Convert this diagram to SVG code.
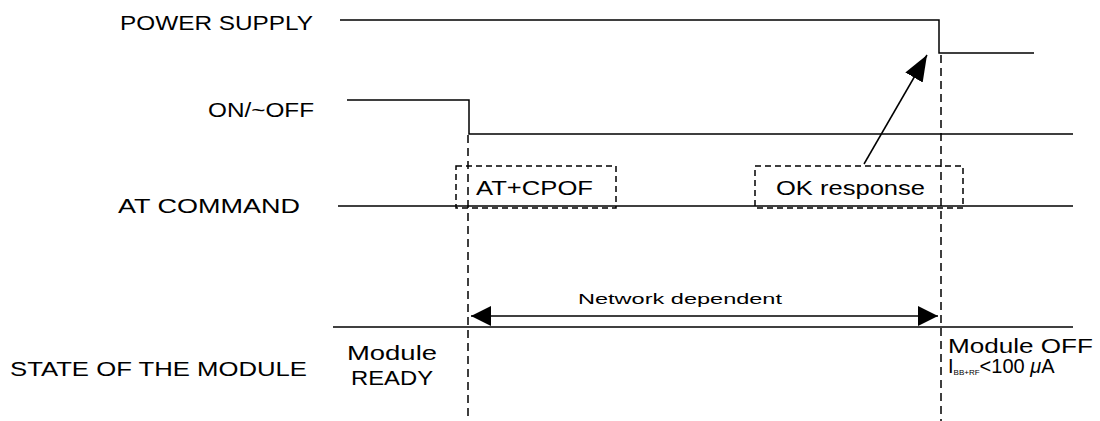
<svg xmlns="http://www.w3.org/2000/svg" width="1100" height="421" viewBox="0 0 1100 421">
<style>
.sig{fill:none;stroke:#000;stroke-width:1.5}
.dash{fill:none;stroke:#000;stroke-width:1.5;stroke-dasharray:8,5}
.box{fill:none;stroke:#000;stroke-width:1.5;stroke-dasharray:6,4}
.lbl{font-family:"Liberation Sans",Arial,sans-serif;font-size:20px;fill:#000}
.sm{font-family:"Liberation Sans",Arial,sans-serif;font-size:15px;fill:#000}
</style>
<defs>
<marker id="ah" markerUnits="userSpaceOnUse" markerWidth="20" markerHeight="20" refX="20" refY="10" orient="auto-start-reverse">
<path d="M0,0 L20,10 L0,20 Z" fill="#000"/>
</marker>
<marker id="ah2" markerUnits="userSpaceOnUse" markerWidth="26" markerHeight="20" refX="26" refY="10" orient="auto">
<path d="M0,0 L26,10 L0,20 Z" fill="#000"/>
</marker>
</defs>
<rect width="1100" height="421" fill="#fff"/>
<g id="labels">
<text class="lbl" x="120" y="30" textLength="193" lengthAdjust="spacingAndGlyphs">POWER SUPPLY</text>
<text class="lbl" x="208" y="117" textLength="106" lengthAdjust="spacingAndGlyphs">ON/~OFF</text>
<text class="lbl" x="118" y="213" textLength="182" lengthAdjust="spacingAndGlyphs">AT COMMAND</text>
<text class="lbl" x="10" y="376" textLength="297" lengthAdjust="spacingAndGlyphs">STATE OF THE MODULE</text>
</g>
<g id="signals">
<path class="sig" d="M340,20 H939 V53 H1034"/>
<path class="sig" d="M347,100 H469 V134 H1073"/>
<path class="sig" d="M338,206 H1073"/>
<path class="sig" d="M333,327 H1073"/>
</g>
<g id="connectors">
<line class="dash" x1="468" y1="135" x2="468" y2="421"/>
<line class="dash" x1="941" y1="55" x2="941" y2="421"/>
<line class="sig" x1="471" y1="316" x2="938" y2="316" marker-start="url(#ah)" marker-end="url(#ah)"/>
<line class="sig" x1="864" y1="164" x2="927" y2="55" marker-end="url(#ah2)"/>
</g>
<g id="node-atcpof">
<rect class="box" x="456" y="166" width="160" height="42"/>
<text class="lbl" x="476" y="195" font-size="19" textLength="117" lengthAdjust="spacingAndGlyphs">AT+CPOF</text>
</g>
<g id="node-ok">
<rect class="box" x="755" y="166" width="208" height="42"/>
<text class="lbl" x="776" y="195" font-size="19" textLength="149" lengthAdjust="spacingAndGlyphs">OK response</text>
</g>
<g id="node-network">
<text class="sm" x="578" y="304" textLength="204" lengthAdjust="spacingAndGlyphs">Network dependent</text>
</g>
<g id="node-ready">
<text class="lbl" x="392" y="360" text-anchor="middle" textLength="90" lengthAdjust="spacingAndGlyphs">Module</text>
<text class="lbl" x="392" y="385" text-anchor="middle" textLength="82" lengthAdjust="spacingAndGlyphs">READY</text>
</g>
<g id="node-off">
<text class="lbl" x="948" y="353" textLength="145" lengthAdjust="spacingAndGlyphs">Module OFF</text>
<text class="lbl" x="948" y="373" font-size="15">I<tspan font-size="8" dy="2">BB+RF</tspan><tspan dy="-2">&lt;100 </tspan><tspan font-style="italic">μ</tspan>A</text>
</g>
</svg>
